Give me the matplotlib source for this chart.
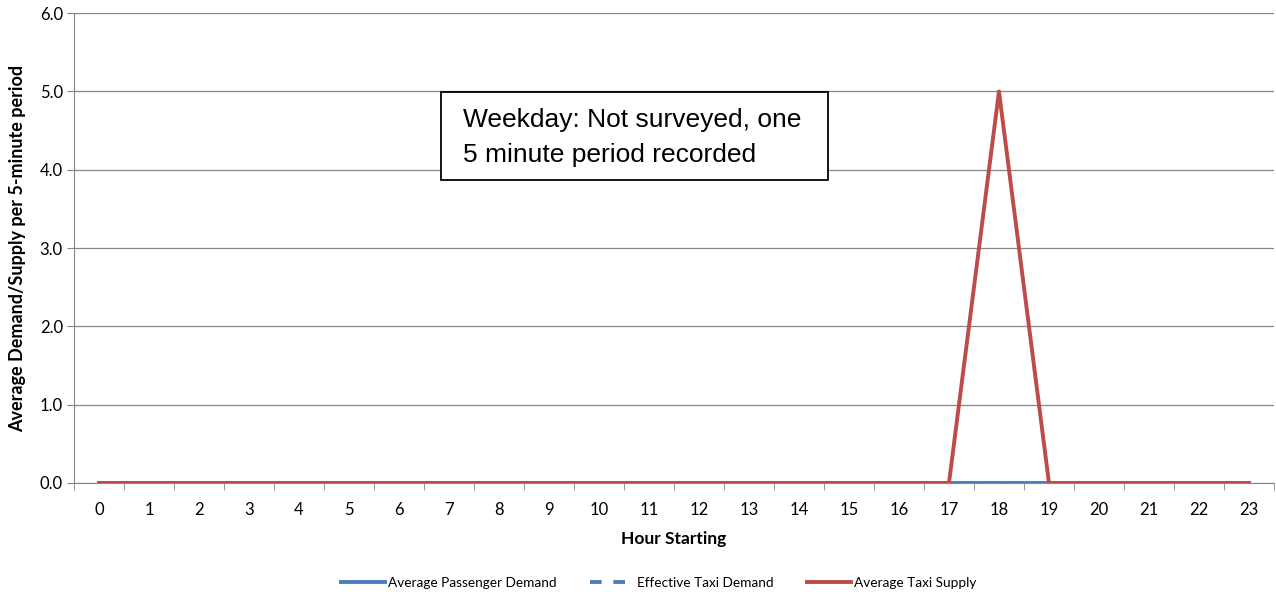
import matplotlib
matplotlib.use('Agg')
import matplotlib.pyplot as plt
from matplotlib.ticker import FixedLocator
from matplotlib.patches import Rectangle

plt.rcParams['font.family'] = ['Lato', 'DejaVu Sans']

# data
hours = list(range(24))
passenger_demand = [0] * 24
effective_demand = [0] * 24
taxi_supply = [0, 0, 0, 0, 0, 0, 0, 0, 0, 0, 0, 0,
               0, 0, 0, 0, 0, 0, 5, 0, 0, 0, 0, 0]
y_ticks = [0, 1, 2, 3, 4, 5, 6]

blue = '#4a7ebb'
red = '#be4b48'
grey = '#868686'

fig = plt.figure(figsize=(12.76, 5.96), dpi=100)
ax = fig.add_axes([0.058, 0.1896, 0.9404, 0.7884])

ax.plot(hours, passenger_demand, color=blue, lw=2.8, label='Average Passenger Demand', zorder=3)
ax.plot(hours, effective_demand, color=blue, lw=2.8, ls=(0, (3, 3)), label='Effective Taxi Demand', zorder=3)
ax.plot(hours, taxi_supply, color=red, lw=2.8, label='Average Taxi Supply', zorder=4)

ax.set_xlim(-0.5, 23.5)
ax.set_ylim(0, 6)
ax.set_yticks(y_ticks)
ax.set_yticklabels(['%.1f' % v for v in y_ticks])
ax.set_xticks(hours)
ax.set_xticklabels([str(h) for h in hours])
ax.tick_params(axis='x', which='major', length=0, pad=14, labelsize=12)
ax.xaxis.set_minor_locator(FixedLocator([h - 0.5 for h in hours] + [23.5]))
ax.tick_params(axis='x', which='minor', length=5, color=grey, direction='out')
ax.tick_params(axis='y', length=5, color=grey, labelsize=12, pad=3)

ax.grid(axis='y', color=grey, lw=0.9)
ax.set_axisbelow(True)
for s in ['top', 'right']:
    ax.spines[s].set_visible(False)
ax.spines['left'].set_color(grey)
ax.spines['bottom'].set_color(grey)

ax.set_xlabel('Hour Starting', fontsize=12.5, fontweight='bold', labelpad=9)
ax.set_ylabel('Average Demand/Supply per 5-minute period', fontsize=13, fontweight='bold', labelpad=10)

# note box
ax.add_patch(Rectangle((0.3058, 0.6447), 0.3225, 0.1872, transform=ax.transAxes,
                       fc='white', ec='black', lw=1.3, zorder=5))
ax.text(0.3242, 0.7574, 'Weekday: Not surveyed, one', transform=ax.transAxes,
        fontsize=19, family='Liberation Sans', va='baseline', ha='left', zorder=6)
ax.text(0.3242, 0.683, '5 minute period recorded', transform=ax.transAxes,
        fontsize=19, family='Liberation Sans', va='baseline', ha='left', zorder=6)

fig.legend(loc='center', bbox_to_anchor=(0.5165, 0.022), ncol=3, frameon=False,
           fontsize=9.8, handlelength=3.2, handletextpad=0.25, columnspacing=2.45)

fig.savefig('out.png', dpi=100)
